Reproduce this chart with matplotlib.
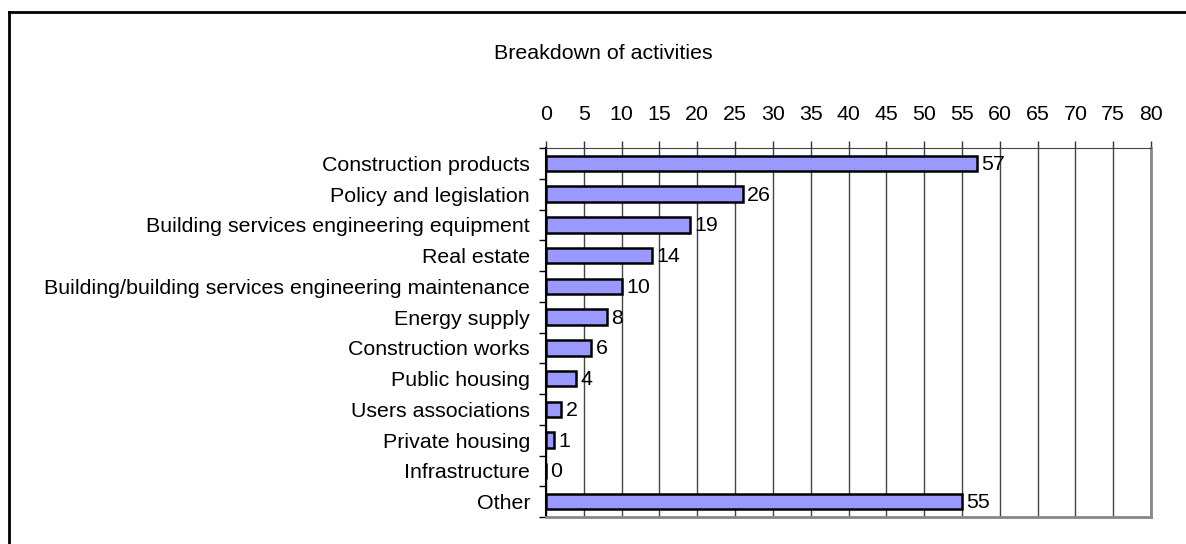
import matplotlib.pyplot as plt
import numpy as np
from matplotlib.lines import Line2D

plt.rcParams['font.family'] = ['Liberation Sans', 'DejaVu Sans']

activities = ['Construction products', 'Policy and legislation',
              'Building services engineering equipment', 'Real estate',
              'Building/building services engineering maintenance',
              'Energy supply', 'Construction works', 'Public housing',
              'Users associations', 'Private housing', 'Infrastructure', 'Other']
counts = [57, 26, 19, 14, 10, 8, 6, 4, 2, 1, 0, 55]
xticks = np.arange(0, 85, 5)

FS = 15.4

fig = plt.figure(figsize=(11.86, 5.44), dpi=100)
ax = fig.add_axes([0.4604, 0.0496, 0.5101, 0.6783])

y = np.arange(len(activities))
ax.barh(y, counts, height=0.5, color='#9999ff', edgecolor='black',
        linewidth=1.8, zorder=3)
for yi, c in zip(y, counts):
    ax.text(c + 0.6, yi + 0.03, str(c), va='center', ha='left', fontsize=FS,
            zorder=4)

ax.set_xlim(0, 80)
ax.set_ylim(len(activities) - 0.5, -0.5)
ax.set_xticks(xticks)
ax.xaxis.tick_top()
ax.tick_params(axis='x', direction='out', length=5, width=1, pad=12,
               labelsize=FS, color='#333333')
ax.grid(axis='x', color='#444444', linewidth=1, zorder=0)

# category labels sit between the boundary ticks
ax.set_yticks(np.arange(len(activities) + 1) - 0.5)
ax.set_yticklabels([])
ax.set_yticks(y, minor=True)
ax.set_yticklabels(activities, minor=True, fontsize=FS)
ax.tick_params(axis='y', which='major', direction='out', length=5, width=1)
ax.tick_params(axis='y', which='minor', length=0, pad=11.5)

ax.spines['left'].set_color('black')
ax.spines['left'].set_linewidth(1.5)
ax.spines['top'].set_color('#444444')
ax.spines['right'].set_color('#888888')
ax.spines['right'].set_linewidth(2)
ax.spines['bottom'].set_color('#888888')
ax.spines['bottom'].set_linewidth(2)

fig.text(0.509, 0.902, 'Breakdown of activities', ha='center', va='center',
         fontsize=FS)

# outer chart frame (left and top edges)
fig.add_artist(Line2D([8.5 / 1186, 8.5 / 1186], [0, 1 - 11.5 / 544],
                      color='black', linewidth=2))
fig.add_artist(Line2D([8.5 / 1186, 1], [1 - 11.5 / 544, 1 - 11.5 / 544],
                      color='black', linewidth=2))

fig.savefig('out.png', dpi=100)
